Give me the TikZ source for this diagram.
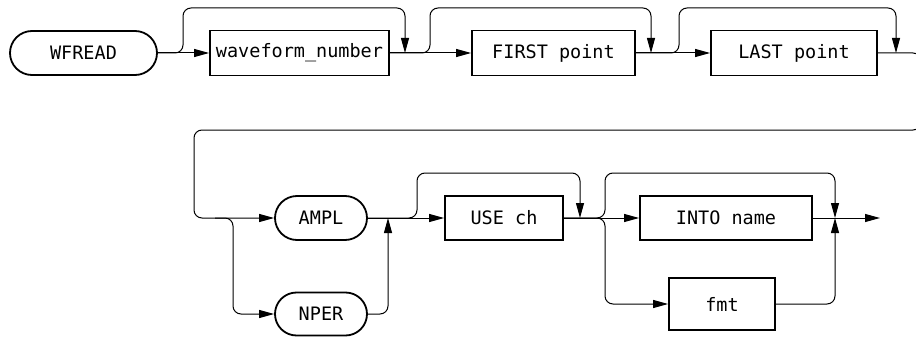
\documentclass[tikz,border=0pt]{standalone}
\usepackage{fontspec}
\setmonofont{DejaVu Sans Mono}
\usetikzlibrary{arrows.meta,shapes.misc}
\begin{document}
\begin{tikzpicture}[x=1pt,y=-1pt,
  conn/.style={line width=1pt},
  arr/.style={conn,-{Triangle[length=15pt,width=8pt]}},
  bypass/.style={arr,rounded corners=8pt},
  box/.style={draw,line width=1.8pt,minimum height=45pt,inner sep=0pt,
    font=\ttfamily\fontsize{18.5}{20}\selectfont},
  term/.style={box,rounded rectangle}]
\useasboundingbox (0,0) rectangle (916,337);
% nodes row 1
\node[term,minimum width=147pt,minimum height=44pt] (wfread) at (83.5,53) {WFREAD};
\node[box,minimum width=179pt] (wn) at (299.5,53) {waveform\_number};
\node[box,minimum width=163pt] (first) at (553.5,53) {FIRST point};
\node[box,minimum width=166pt] (last) at (794,53) {LAST point};
% nodes row 2
\node[term,minimum width=92pt,minimum height=44pt] (ampl) at (321,218) {AMPL};
\node[term,minimum width=92pt,minimum height=43pt] (nper) at (321,314) {NPER};
\node[box,minimum width=118pt,minimum height=44pt] (use) at (504,218) {USE ch};
\node[box,minimum width=172pt,minimum height=44pt] (into) at (726,218) {INTO name};
\node[box,minimum width=106pt,minimum height=52pt] (fmt) at (722,304) {fmt};
% coordinates
\coordinate (t1) at (0,8);
\coordinate (t2) at (0,173);
\coordinate (s1) at (183,53);
\coordinate (m1) at (405,53);
\coordinate (s2) at (430,53);
\coordinate (m2) at (651,53);
\coordinate (s3) at (679,53);
\coordinate (m3) at (896,53);
\coordinate (r) at (921,130);
\coordinate (k) at (194,130);
\coordinate (b0) at (215,218);
\coordinate (b1) at (233,218);
\coordinate (j1) at (388,218);
\coordinate (s4) at (417,218);
\coordinate (m4) at (580,218);
\coordinate (s5) at (605,218);
\coordinate (m5) at (835,218);
\coordinate (fin) at (880,218);
% row 1 connectors
\draw[arr] (wfread.east) -- (wn.west);
\draw[bypass] (wfread.east) -- (s1) |- (m1|-t1) -- (m1);
\draw[arr] (wn.east) -- (first.west);
\draw[bypass] (wn.east) -- (s2) |- (m2|-t1) -- (m2);
\draw[arr] (first.east) -- (last.west);
\draw[bypass] (first.east) -- (s3) |- (m3|-t1) -- (m3);
% row transition
\begin{scope}
\clip (0,0) rectangle (916,337);
\draw[bypass] (last.east) -| (r) -- (k) |- (ampl.west);
\end{scope}
% row 2 connectors
\draw[bypass] (b0) -- (b1) |- (nper.west);
\draw[bypass] (nper.east) -| (j1);
\draw[arr] (ampl.east) -- (use.west);
\draw[bypass] (ampl.east) -- (s4) |- (m4|-t2) -- (m4);
\draw[arr] (use.east) -- (into.west);
\draw[bypass] (use.east) -- (s5) |- (m5|-t2) -- (m5);
\draw[bypass] (use.east) -- (s5) |- (fmt.west);
\draw[bypass] (fmt.east) -| (m5);
\draw[arr] (into.east) -- (fin);
\end{tikzpicture}
\end{document}
